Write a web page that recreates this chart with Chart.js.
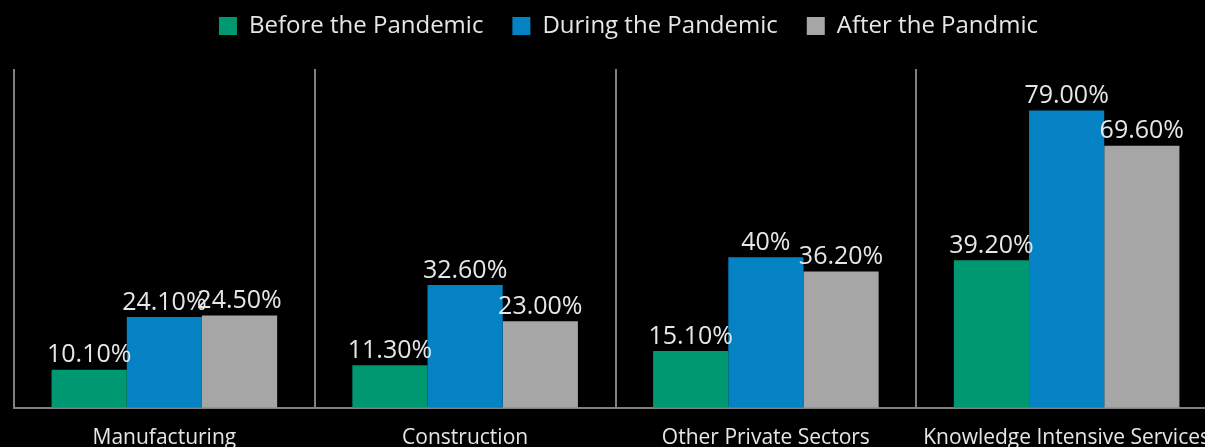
<!DOCTYPE html>
<html>
<head>
<meta charset="utf-8">
<script src="https://cdn.jsdelivr.net/npm/chart.js@4.4.1/dist/chart.umd.min.js"></script>
<style>
  html, body { margin: 0; padding: 0; background: #000; overflow: hidden; }
  #wrap { position: relative; top: -15px; width: 1256px; height: 484px; }
</style>
</head>
<body>
<div id="wrap"><canvas id="myChart"></canvas></div>
<script>
const categories = ['Manufacturing', 'Construction', 'Other Private Sectors', 'Knowledge Intensive Services'];
const seriesNames = ['Before the Pandemic', 'During the Pandemic', 'After the Pandmic'];
const beforeValues = [10.1, 11.3, 15.1, 39.2];
const duringValues = [24.1, 32.6, 40, 79.0];
const afterValues = [24.5, 23.0, 36.2, 69.6];
const beforeLabels = ['10.10%', '11.30%', '15.10%', '39.20%'];
const duringLabels = ['24.10%', '32.60%', '40%', '79.00%'];
const afterLabels = ['24.50%', '23.00%', '36.20%', '69.60%'];

const FONT = "'Open Sans', sans-serif";

// value text above every bar
const barLabels = {
  id: 'barLabels',
  afterDatasetsDraw(chart) {
    const c = chart.ctx;
    c.save();
    c.font = '25px ' + FONT;
    c.fillStyle = '#e6e6e6';
    c.textAlign = 'center';
    c.textBaseline = 'bottom';
    chart.data.datasets.forEach((ds, i) => {
      chart.getDatasetMeta(i).data.forEach((bar, j) => {
        c.fillText(ds.valueLabels[j], bar.x, bar.y - 2);
      });
    });
    c.restore();
  }
};

// more room under the legend, and nudge it right
const legendTweak = {
  id: 'legendTweak',
  beforeInit(chart) {
    const fit = chart.legend.fit;
    chart.legend.fit = function () {
      fit.bind(chart.legend)();
      this.height += 21;
    };
  },
  afterLayout(chart) {
    chart.legend.left += 13;
    chart.legend.right += 13;
  }
};

const ctx = document.getElementById('myChart');
new Chart(ctx, {
  type: 'bar',
  data: {
    labels: categories,
    datasets: [{
      label: seriesNames[0],
      data: beforeValues,
      valueLabels: beforeLabels,
      backgroundColor: 'rgb(0,152,112)'
    }, {
      label: seriesNames[1],
      data: duringValues,
      valueLabels: duringLabels,
      backgroundColor: 'rgb(4,130,196)'
    }, {
      label: seriesNames[2],
      data: afterValues,
      valueLabels: afterLabels,
      backgroundColor: 'rgb(166,166,166)'
    }]
  },
  options: {
    responsive: true,
    maintainAspectRatio: false,
    animation: false,
    categoryPercentage: 0.75,
    barPercentage: 1,
    layout: { padding: { left: 14, right: 39, top: 0 } },
    plugins: {
      legend: {
        position: 'top',
        labels: {
          color: '#e6e6e6',
          font: { family: FONT, size: 24 },
          boxWidth: 18,
          boxHeight: 18,
          padding: 29
        }
      },
      tooltip: { enabled: false }
    },
    scales: {
      x: {
        offset: true,
        grid: {
          offset: true,
          color: '#808080',
          lineWidth: 2,
          drawTicks: false
        },
        border: { color: '#808080', width: 2 },
        ticks: {
          color: '#e6e6e6',
          font: { family: FONT, size: 21 },
          padding: 18,
          maxRotation: 0
        }
      },
      y: {
        display: false,
        min: 0,
        max: 90
      }
    }
  },
  plugins: [barLabels, legendTweak]
});
</script>
</body>
</html>
